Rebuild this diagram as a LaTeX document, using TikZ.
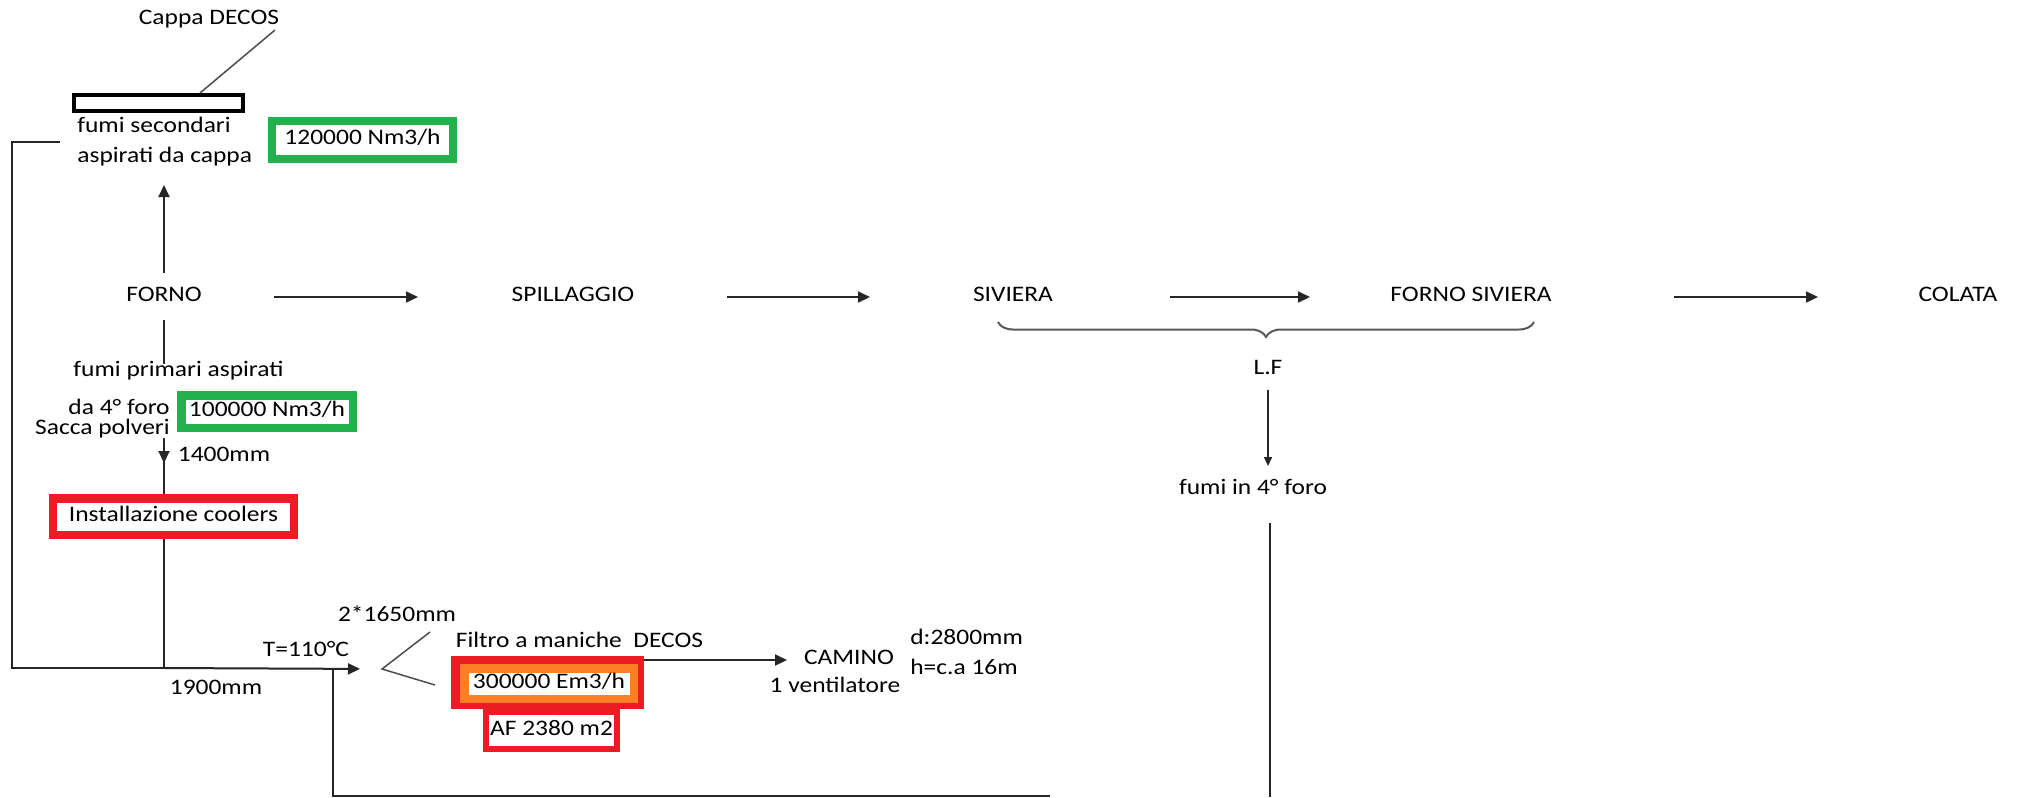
\documentclass[tikz,border=0pt]{standalone}
\usepackage{fontspec}
\setmainfont[FakeStretch=1.15]{Carlito}
\usetikzlibrary{arrows.meta,decorations.pathreplacing}
\definecolor{paintgreen}{RGB}{34,177,76}
\definecolor{paintred}{RGB}{237,28,36}
\definecolor{paintorange}{RGB}{255,127,39}
\tikzset{
    lbl/.style={inner sep=0pt, text height=0.72em, text depth=0.2em, fill=white,
                font=\fontsize{12.6pt}{17pt}\selectfont},
    pipe/.style={line width=0.4mm, draw=black!85},
    flow/.style={pipe, -{Triangle[length=2.4mm,width=2.2mm]}},
    thinflow/.style={line width=0.28mm, draw=black!85, -{Triangle[length=1.8mm,width=1.6mm]}},
    leader/.style={line width=0.3mm, draw=black!70},
    greenbox/.style={lbl, draw=paintgreen, line width=1.7mm},
    redbox/.style={lbl, draw=paintred, line width=1.7mm}
}
\begin{document}
\begin{tikzpicture}[x=0.2mm,y=-0.2mm]
    \path[fill=white, use as bounding box] (0,0) rectangle (2018,797);
    % hood and secondary fumes
    \node[lbl] (cappa) at (209,20) {Cappa DECOS};
    \node[draw, line width=0.8mm, minimum width=33.8mm, minimum height=3.2mm, inner sep=0pt] (hood) at (158.5,103) {};
    \node[lbl, text height=, text depth=, align=left, anchor=west] (secondari) at (77,142) {fumi secondari\\aspirati da cappa};
    \node[greenbox, minimum width=36.2mm, minimum height=7.6mm] (q120) at (362.5,140) {120000 Nm3/h};
    \draw[leader] ([xshift=13.2mm,yshift=-2mm]cappa.center) -- ([xshift=8.3mm]hood.north);
    % main line
    \node[lbl] (forno) at (164,297) {FORNO};
    \node[lbl] (spillaggio) at (573,297) {SPILLAGGIO};
    \node[lbl] (siviera) at (1013,297) {SIVIERA};
    \node[lbl] (fornosiviera) at (1471,297) {FORNO SIVIERA};
    \node[lbl] (colata) at (1958,297) {COLATA};
    \draw[flow, shorten <=22mm, shorten >=31mm] (forno.center) -- (spillaggio.center);
    \draw[flow, shorten <=30.8mm, shorten >=28.6mm] (spillaggio.center) -- (siviera.center);
    \draw[flow, shorten <=31.4mm, shorten >=32.2mm] (siviera.center) -- (fornosiviera.center);
    \draw[flow, shorten <=40.6mm, shorten >=28mm] (fornosiviera.center) -- (colata.center);
    \draw[flow, shorten <=4.8mm, shorten >=8.6mm] (forno.center) -- (forno.center |- secondari.center);
    % primary fumes
    \node[redbox, minimum width=48.1mm, minimum height=7.3mm] (coolers) at (173.5,516.5) {Installazione coolers};
    \node[lbl] (primari) at (178.5,372) {fumi primari aspirati};
    \node[lbl, anchor=east] (foro) at (170,410) {da 4° foro};
    \node[lbl, anchor=east] (sacca) at (170,430) {Sacca polveri};
    \node[greenbox, minimum width=34.3mm, minimum height=6.5mm] (q100) at (267,411.5) {100000 Nm3/h};
    \node[lbl] (d1400) at (224,457) {1400mm};
    \draw[pipe, shorten <=4.6mm] (forno.center) -- (forno.center |- primari.north);
    \draw[pipe] (forno.center |- sacca.south) -- (forno.center |- coolers.north);
    \draw[flow, shorten >=6.2mm] (forno.center |- sacca.south) -- (forno.center |- coolers.north);
    % collector to filter
    \coordinate (join) at (164,668);
    \coordinate (loop) at (12,668);
    \coordinate (split) at (382,669);
    \coordinate (tee) at (333,668);
    \coordinate (bottom) at (333,795.5);
    \coordinate (bottomend) at (1050,795.5);
    \coordinate (leg1) at (430,632);
    \coordinate (leg2) at (435,685);
    \draw[pipe] (coolers.south -| forno.center) -- (join);
    \draw[pipe] ([xshift=-3.4mm]secondari.west) -- (secondari.west -| loop) -- (loop) -- (join);
    \draw[flow, shorten >=4.4mm] (join) -- (split);
    \draw[pipe] (tee) -- (bottom) -- (bottomend);
    \draw[leader] (leg1) -- (split) -- (leg2);
    \node[lbl] (temp) at (306,652) {T=110°C};
    \node[lbl] (d1900) at (216,690) {1900mm};
    \node[lbl] (d1650) at (397,617) {2*1650mm};
    % filter and stack
    \node[lbl] (filtrotitle) at (579.5,643) {Filtro a maniche\ \ DECOS};
    \node[fill=paintred, minimum width=38.6mm, minimum height=10.6mm, inner sep=0pt] (filtro) at (547.5,682.5) {};
    \node[lbl, draw=paintorange, line width=1.7mm, minimum width=33.9mm, minimum height=6.1mm] (portata) at (549,683.5) {300000 Em3/h};
    \node[lbl, draw=paintred, line width=1.2mm, minimum width=26.2mm, minimum height=7.4mm] (af) at (551.5,730.5) {AF 2380 m2};
    \node[lbl] (camino) at (849,660) {CAMINO};
    \node[lbl] (ventilatore) at (835,688) {1 ventilatore};
    \node[lbl, anchor=west] (diametro) at (910,640) {d:2800mm};
    \node[lbl, anchor=west] (altezza) at (910,670) {h=c.a 16m};
    \draw[flow, shorten >=12.4mm] (filtro.north east |- camino.center) -- (camino.center);
    % ladle furnace
    \draw[decorate, decoration={brace, mirror, amplitude=3mm}, line width=0.4mm, draw=black!65]
        ([xshift=-3mm,yshift=-5mm]siviera.center) -- ([xshift=12.6mm,yshift=-5mm]fornosiviera.center);
    \node[lbl] (lf) at (1268,370) {L.F};
    \node[lbl] (fumi4) at (1253,490) {fumi in 4° foro};
    \coordinate (drop) at (1270,797);
    \draw[thinflow, shorten <=4mm, shorten >=4.8mm] (lf.center) -- (lf.center |- fumi4.center);
    \draw[pipe, shorten <=6.6mm] (fumi4.center -| drop) -- (drop);
\end{tikzpicture}
\end{document}
